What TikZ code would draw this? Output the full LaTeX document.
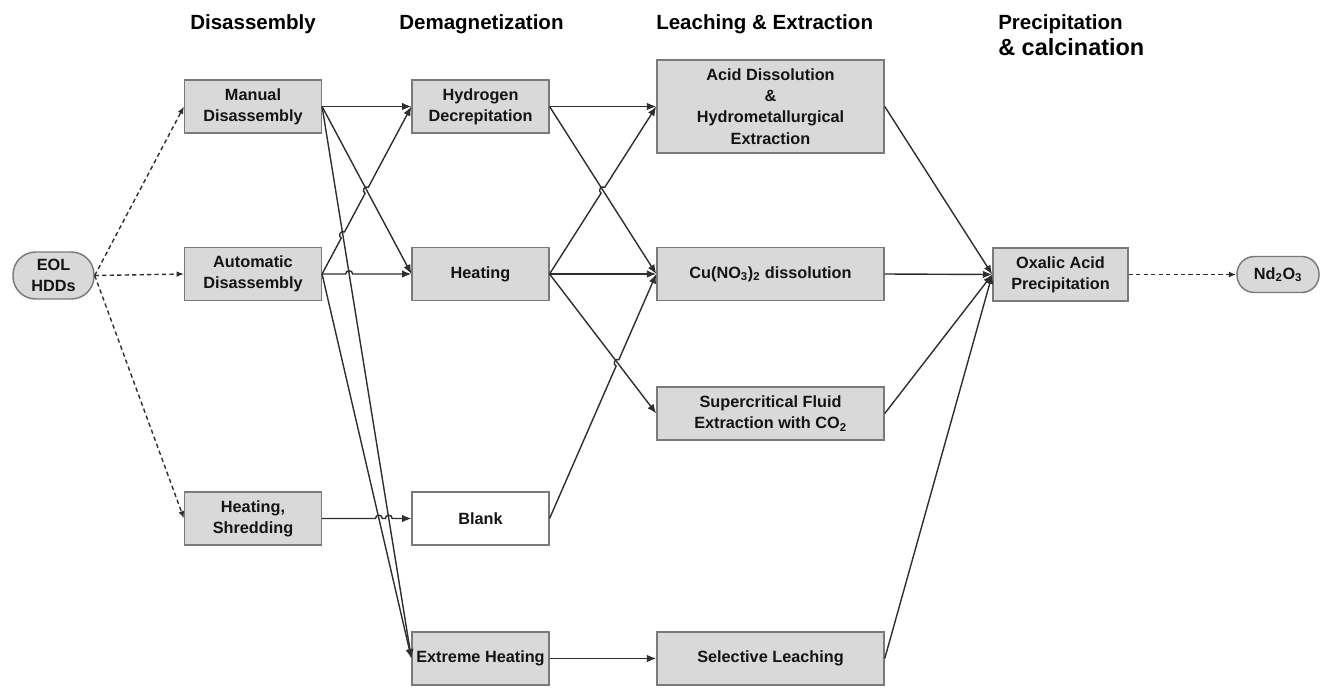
\documentclass[tikz,border=0pt]{standalone}
\usepackage{fontspec}
\setmainfont{Liberation Sans}
\usetikzlibrary{arrows.meta,calc}
\definecolor{boxfill}{HTML}{D9D9D9}
\definecolor{boxline}{HTML}{7A7A7A}
\definecolor{wire}{HTML}{2E2E2E}
\definecolor{ink}{HTML}{141414}

\begin{document}
\begin{tikzpicture}[x=0.75pt,y=-0.75pt,
  box/.style={draw=boxline, line width=1.1pt, fill=boxfill, align=center,
    inner sep=0pt, text=ink, font=\fontsize{12.2pt}{16pt}\selectfont\bfseries},
  stage/.style={box, minimum width=102.5pt, minimum height=39.75pt},
  wide/.style={box, minimum width=170.25pt, minimum height=39.75pt},
  blankbox/.style={stage, fill=white},
  terminal/.style={box, rounded corners=#1},
  flow/.style={draw=wire, line width=1.05pt, -{Latex[length=7pt,width=5.6pt]}},
  dflow/.style={draw=wire, line width=1.05pt, dash pattern=on 3.2pt off 2.4pt,
    -{Latex[length=5.5pt,width=4.4pt]}},
  hop/.style={bend left=90, looseness=1.6},
  hdr/.style={anchor=base west, inner sep=0pt, text=black,
    font=\fontsize{15.4pt}{18pt}\selectfont\bfseries}]

\useasboundingbox (0,0) rectangle (1320,692);

% column headings
\node[hdr] (hdis) at (190,30) {Disassembly};
\node[hdr] (hdem) at (399,30) {Demagnetization};
\node[hdr] (hlea) at (656,30) {Leaching \& Extraction};
\node[hdr] (hpre) at (998,30) {Precipitation};
\node[hdr, font=\fontsize{17.6pt}{20pt}\selectfont\bfseries] (hcal) at (998,56) {\& calcination};

% end points
\node[terminal=17pt, minimum width=60.75pt, minimum height=35.25pt] (eol) at (53.5,275.5) {EOL\\HDDs};
\node[terminal=13pt, minimum width=61.5pt, minimum height=27pt] (nd) at (1278,274.5) {Nd\textsubscript{2}O\textsubscript{3}};

% disassembly
\node[stage] (man) at (253,106.5) {Manual\\Disassembly};
\node[stage] (aut) at (253,274) {Automatic\\Disassembly};
\node[stage] (shr) at (253,518.5) {Heating,\\Shredding};

% demagnetization
\node[stage] (hyd) at (480.5,106.5) {Hydrogen\\Decrepitation};
\node[stage] (hea) at (480.5,274) {Heating};
\node[blankbox] (blk) at (480.5,518.5) {Blank};
\node[stage] (ext) at (480.5,658.5) {Extreme Heating};

% leaching and extraction
\node[wide, minimum height=69.75pt] (acd) at (770.5,106.5) {Acid Dissolution\\\&\\Hydrometallurgical\\Extraction};
\node[wide] (cu) at (770.5,274) {Cu(NO\textsubscript{3})\textsubscript{2} dissolution};
\node[wide] (sup) at (770.5,413.5) {Supercritical Fluid\\Extraction with CO\textsubscript{2}};
\node[wide] (sel) at (770.5,658.5) {Selective Leaching};

% precipitation
\node[stage, minimum width=101.25pt] (oxa) at (1060.5,274.5) {Oxalic Acid\\Precipitation};

% crossing points that get a line hop
\coordinate (x1) at (intersection of aut.east--hyd.west and man.east--hea.west);
\coordinate (x2) at (intersection of aut.east--hyd.west and man.east--ext.west);
\coordinate (x3) at (intersection of aut.east--hea.west and man.east--ext.west);
\coordinate (x4) at (intersection of shr.east--blk.west and aut.east--ext.west);
\coordinate (x5) at (intersection of shr.east--blk.west and man.east--ext.west);
\coordinate (x6) at (intersection of hea.east--acd.west and hyd.east--cu.west);
\coordinate (x7) at (intersection of blk.east--cu.west and hea.east--sup.west);

% dashed feeds
\draw[dflow] (eol.east) -- (man.west);
\draw[dflow] (eol.east) -- (aut.west);
\draw[dflow] (eol.east) -- (shr.west);
\draw[dflow] (oxa.east) -- (nd.west);

% disassembly -> demagnetization
\draw[flow] (man.east) -- (hyd.west);
\draw[flow] (man.east) -- (hea.west);
\draw[flow] (man.east) -- (ext.west);
\draw[flow] (aut.east) -- ($(x2)!2.6pt!(aut.east)$) to[hop] ($(x2)!2.6pt!(hyd.west)$)
  -- ($(x1)!2.6pt!(aut.east)$) to[hop] ($(x1)!2.6pt!(hyd.west)$) -- (hyd.west);
\draw[flow] (aut.east) -- ($(x3)!2.6pt!(aut.east)$) to[hop] ($(x3)!2.6pt!(hea.west)$) -- (hea.west);
\draw[flow] (aut.east) -- (ext.west);
\draw[flow] (shr.east) -- ($(x4)!2.6pt!(shr.east)$) to[hop] ($(x4)!2.6pt!(blk.west)$)
  -- ($(x5)!2.6pt!(shr.east)$) to[hop] ($(x5)!2.6pt!(blk.west)$) -- (blk.west);

% demagnetization -> leaching
\draw[flow] (hyd.east) -- (acd.west);
\draw[flow] (hyd.east) -- (cu.west);
\draw[flow] (hea.east) -- ($(x6)!2.6pt!(hea.east)$) to[hop] ($(x6)!2.6pt!(acd.west)$) -- (acd.west);
\draw[flow] (hea.east) -- (cu.west);
\draw[flow] (hea.east) -- (sup.west);
\draw[flow] (blk.east) -- ($(x7)!2.6pt!(blk.east)$) to[hop] ($(x7)!2.6pt!(cu.west)$) -- (cu.west);
\draw[flow] (ext.east) -- (sel.west);

% leaching -> precipitation
\draw[flow] (acd.east) -- (oxa.west);
\draw[flow] (cu.east) -- (oxa.west);
\draw[flow] (sup.east) -- (oxa.west);
\draw[flow] (sel.east) -- (oxa.west);
\end{tikzpicture}
\end{document}
